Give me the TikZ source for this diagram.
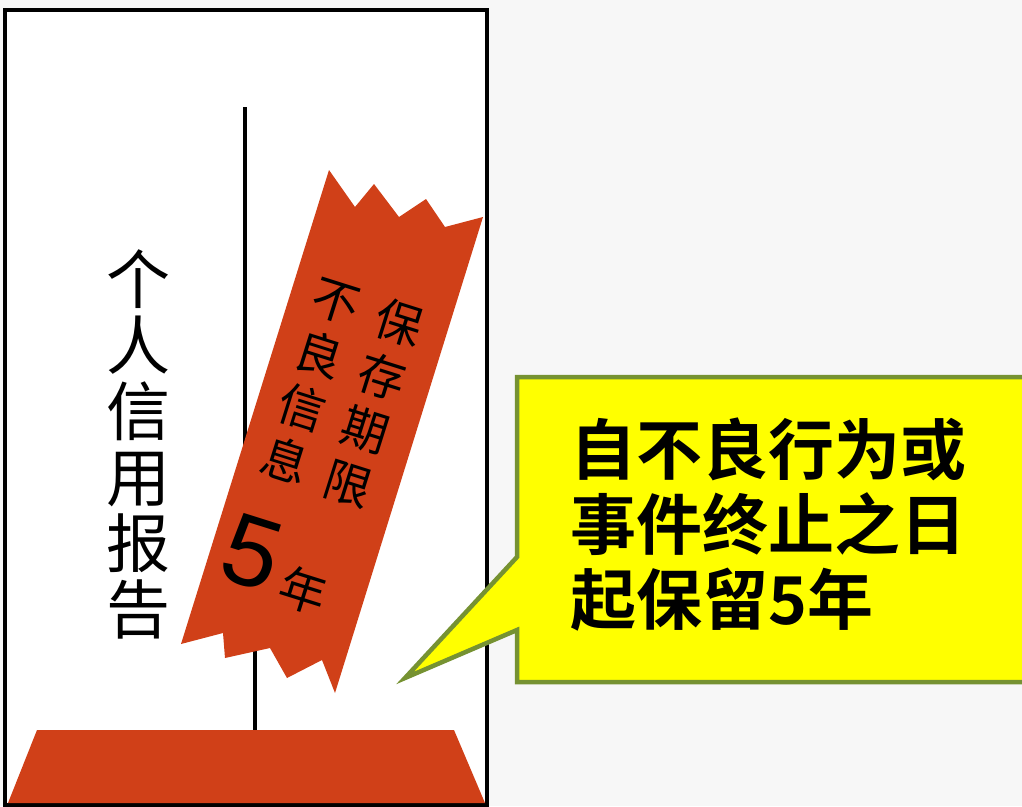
\documentclass[tikz,border=0pt]{standalone}
\usepackage{fontspec}
\newfontfamily\cjk{Noto Sans CJK SC}
\newfontfamily\cjkbold{Noto Sans CJK SC Bold}
\newfontfamily\arialike{Liberation Sans}
\definecolor{ribbonred}{RGB}{208,64,24}
\definecolor{calloutyellow}{RGB}{255,255,0}
\definecolor{calloutgreen}{RGB}{118,146,50}
\definecolor{bggray}{RGB}{247,247,247}
\tikzset{
  redshape/.style={fill=ribbonred, draw=none},
  stemline/.style={draw=black, line width=3.2pt},
  boxframe/.style={draw=black, line width=3.5pt, fill=white},
  ribbontext/.style={font=\cjk\fontsize{47}{56}\selectfont, align=center, inner sep=0pt, rotate=-17.5},
  callout/.style={fill=calloutyellow, draw=calloutgreen, line width=4.5pt, line join=miter},
}
\begin{document}
\begin{tikzpicture}[x=1pt,y=-1pt]
\useasboundingbox (0,0) rectangle (1022,806);
\fill[bggray] (0,0) rectangle (1022,806);
% report box
\draw[boxframe] (5,10) rectangle (487,805);
% stems behind ribbon
\coordinate (s1top) at (245,107);
\coordinate (s1bot) at (245,500);
\coordinate (s2top) at (255,600);
\coordinate (s2bot) at (255,730);
\draw[stemline] (s1top) -- (s1bot);
\draw[stemline] (s2top) -- (s2bot);
% base
\fill[redshape] (37,730) -- (454,730) -- (485,803) -- (8,803) -- cycle;
% ribbon
\fill[redshape] (329,170) -- (355,207) -- (374,184) -- (399,217) -- (426,199) -- (445,227) -- (483,217)
  -- (335,693) -- (322,660) -- (287,678) -- (270,648) -- (225,658) -- (223,633) -- (181,644) -- cycle;
% vertical title
\node[font=\cjk\fontsize{64}{66}\selectfont, align=center, inner sep=0pt] (title) at (138,444) {个\\人\\信\\用\\报\\告};
% ribbon texts
\node[ribbontext] (colA) at (374,403) {保\\存\\期\\限};
\node[ribbontext] (colB) at (310.5,382) {不\\良\\信\\息};
\node[font=\arialike\fontsize{100}{100}\selectfont, inner sep=0pt, rotate=-17.5] (five) at (252,553) {5};
\node[font=\cjk\fontsize{47}{47}\selectfont, inner sep=0pt, rotate=-17.5] (nian) at (303,590) {年};
% callout
\begin{scope}
\clip (0,0) rectangle (1022,806);
\draw[callout] (517,377) -- (1040,377) -- (1040,682) -- (517,682) -- (517,630) -- (405,678) -- (517,557) -- cycle;
\end{scope}
\node[font=\cjkbold\fontsize{66}{75}\selectfont, align=left, inner sep=0pt, anchor=north west] (note) at (570,418) {自不良行为或\\事件终止之日\\起保留5年};
\end{tikzpicture}
\end{document}
